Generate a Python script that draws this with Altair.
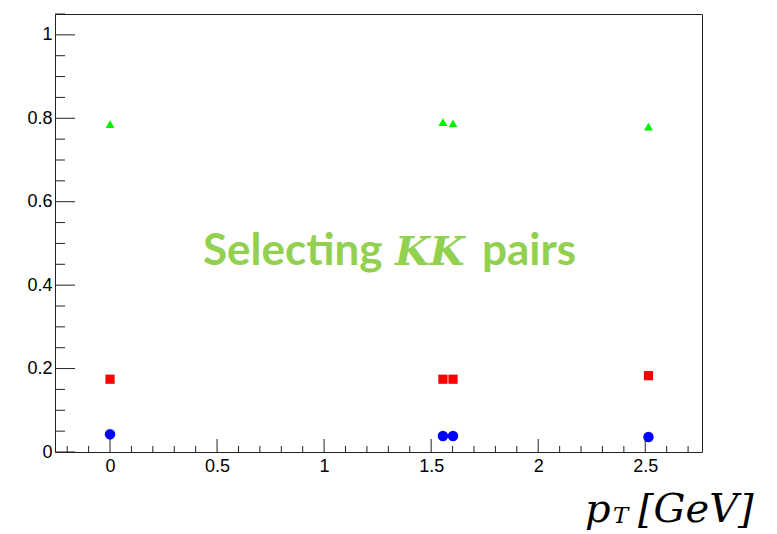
import altair as alt
import pandas as pd

# ---- data ----
pt = [0.0, 1.555, 1.602, 2.515]
green_vals = [0.786, 0.791, 0.788, 0.780]
red_vals = [0.1745, 0.1745, 0.1745, 0.183]
blue_vals = [0.0425, 0.0385, 0.0385, 0.036]

x_major = [0.0, 0.5, 1.0, 1.5, 2.0, 2.5]
x_minor = [-0.2, -0.1, 0.1, 0.2, 0.3, 0.4, 0.6, 0.7, 0.8, 0.9, 1.1, 1.2, 1.3, 1.4,
           1.6, 1.7, 1.8, 1.9, 2.1, 2.2, 2.3, 2.4, 2.6, 2.7]
y_major = [0.0, 0.2, 0.4, 0.6, 0.8, 1.0]
y_minor = [0.05, 0.1, 0.15, 0.25, 0.3, 0.35, 0.45, 0.5, 0.55, 0.65, 0.7, 0.75,
           0.85, 0.9, 0.95, 1.05]

W, H = 647, 438
AX = "#222222"

xscale = alt.Scale(domain=[-0.257, 2.765], nice=False, zero=False)
yscale = alt.Scale(domain=[0, 1.05], nice=False, zero=False)


def series(vals):
    return pd.DataFrame({"x": pt, "y": vals})


ax_x = alt.Axis(values=x_major, format="~g", ticks=False, domain=False, grid=False,
                labelFont="Liberation Sans", labelFontSize=18, labelColor="#000",
                labelPadding=5, title=None)
ax_y = alt.Axis(values=y_major, format="~g", ticks=False, domain=False, grid=False,
                labelFont="Liberation Sans", labelFontSize=18, labelColor="#000",
                labelPadding=3, title=None)

X = lambda f: alt.X(f, scale=xscale, axis=ax_x)
Y = lambda f: alt.Y(f, scale=yscale, axis=ax_y)

green = alt.Chart(series(green_vals)).mark_point(
    shape="triangle-up", filled=True, size=80, color="#00ee00", opacity=1
).encode(x=X("x:Q"), y=Y("y:Q"))

red = alt.Chart(series(red_vals)).mark_point(
    shape="square", filled=True, size=85, color="#ff0000", opacity=1
).encode(x=X("x:Q"), y=Y("y:Q"))

blue = alt.Chart(series(blue_vals)).mark_point(
    shape="circle", filled=True, size=110, color="#0000ff", opacity=1
).encode(x=X("x:Q"), y=Y("y:Q"))

# inward ROOT-style ticks
xmaj = alt.Chart(pd.DataFrame({"v": x_major})).mark_rule(color=AX, strokeWidth=1).encode(
    x=X("v:Q"), y=alt.value(H), y2=alt.value(H - 13))
xmin = alt.Chart(pd.DataFrame({"v": x_minor})).mark_rule(color=AX, strokeWidth=1).encode(
    x=X("v:Q"), y=alt.value(H), y2=alt.value(H - 6))
ymaj = alt.Chart(pd.DataFrame({"v": y_major})).mark_rule(color=AX, strokeWidth=1).encode(
    y=Y("v:Q"), x=alt.value(0), x2=alt.value(20))
ymin = alt.Chart(pd.DataFrame({"v": y_minor})).mark_rule(color=AX, strokeWidth=1).encode(
    y=Y("v:Q"), x=alt.value(0), x2=alt.value(10))


def label(txt, x, y, **kw):
    return alt.Chart(pd.DataFrame({"t": [txt]})).mark_text(
        align="left", baseline="alphabetic", **kw
    ).encode(text="t:N", x=alt.value(x), y=alt.value(y))


GREEN_TXT = "#92d050"
t1 = label("Selecting", 148, 251, font="Lato", fontWeight="bold", fontSize=44, color=GREEN_TXT)
t2 = label("KK", 340, 251, font="DejaVu Serif", fontStyle="italic", fontWeight="bold",
           fontSize=40, color=GREEN_TXT)
t3 = label("pairs", 427, 251, font="Lato", fontWeight="bold", fontSize=44, color=GREEN_TXT)

p1 = label("p", 530, 508, font="DejaVu Serif", fontStyle="italic", fontSize=40, color="#000")
p2 = label("T", 558, 509, font="DejaVu Serif", fontStyle="italic", fontSize=23, color="#000")
p3 = label("[GeV]", 583, 508, font="DejaVu Serif", fontStyle="italic", fontSize=40, color="#000")

chart = alt.layer(green, red, blue, xmaj, xmin, ymaj, ymin, t1, t2, t3, p1, p2, p3).properties(
    width=W, height=H,
    padding={"left": 47, "top": 6, "right": 59, "bottom": 82},
    autosize=alt.AutoSizeParams(type="none"),
    background="white",
).configure_view(stroke=AX, strokeWidth=1)

chart.save("out.html", embed_options={"renderer": "svg", "actions": False})
